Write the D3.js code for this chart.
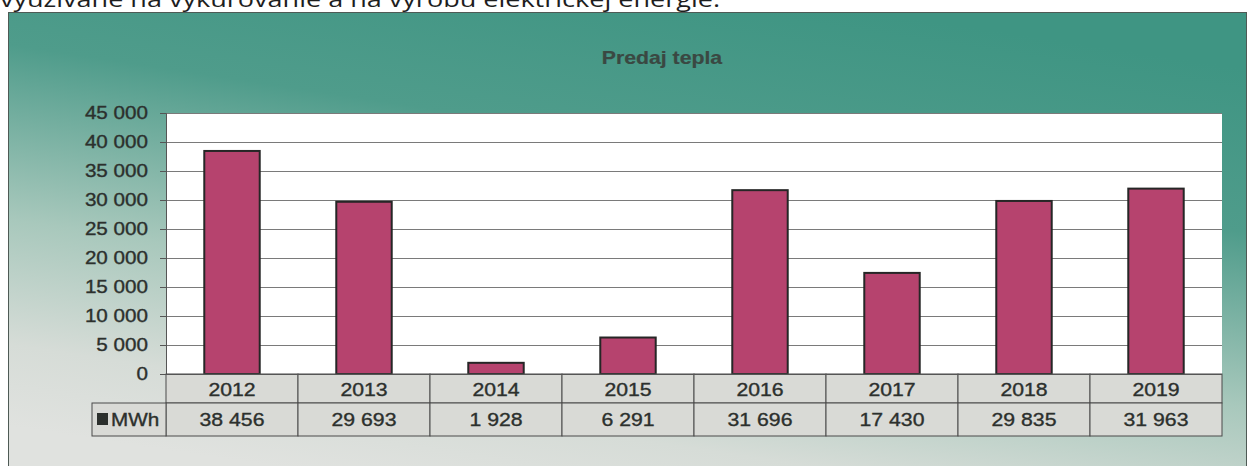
<!DOCTYPE html>
<html>
<head>
<meta charset="utf-8">
<script src="https://cdn.jsdelivr.net/npm/d3@7"></script>
<style>
  html, body { margin: 0; padding: 0; background: #ffffff; overflow: hidden; }
  svg { display: block; }
</style>
</head>
<body>
<svg id="chart" width="1248" height="466"></svg>
<script>
// ---- data ----
const categories = ["2012", "2013", "2014", "2015", "2016", "2017", "2018", "2019"];
const values = [38456, 29693, 1928, 6291, 31696, 17430, 29835, 31963];
const valueLabels = ["38 456", "29 693", "1 928", "6 291", "31 696", "17 430", "29 835", "31 963"];
const yTicks = [0, 5000, 10000, 15000, 20000, 25000, 30000, 35000, 40000, 45000];
const seriesName = "MWh";
const chartTitle = "Predaj tepla";
const pageText = "využívané na vykurovanie a na výrobu elektrickej energie.";

// ---- layout ----
const W = 1248, H = 466;
const plot = { left: 166, right: 1222, top: 113, bottom: 374 };
const row1 = { top: 374, bottom: 403 };
const row2 = { top: 403, bottom: 436 };
const legendLeft = 92;
const stretch = 1.18;
const textColor = "#2c302d";

const svg = d3.select("#chart");
const defs = svg.append("defs");

const grad = defs.append("linearGradient")
  .attr("id", "bg").attr("x1", "0.7").attr("y1", "0").attr("x2", "0.3").attr("y2", "1");
grad.append("stop").attr("offset", "0").attr("stop-color", "#3f9583");
grad.append("stop").attr("offset", "0.3").attr("stop-color", "#4f9c8b");
grad.append("stop").attr("offset", "0.62").attr("stop-color", "#a8c8bc");
grad.append("stop").attr("offset", "0.85").attr("stop-color", "#d6dcd7");
grad.append("stop").attr("offset", "1").attr("stop-color", "#e0e2df");

// page text above the chart (partly cut off, as in the reference)
svg.append("text")
  .attr("x", 0).attr("y", 7)
  .attr("font-family", "'Open Sans', 'Noto Sans', sans-serif")
  .attr("font-size", 22)
  .attr("fill", "#1e1e1e")
  .attr("textLength", 720)
  .attr("lengthAdjust", "spacingAndGlyphs")
  .text(pageText);

// chart frame
svg.append("rect")
  .attr("x", 8.5).attr("y", 12.5).attr("width", 1238).attr("height", 470)
  .attr("fill", "url(#bg)")
  .attr("stroke", "#4e5a55").attr("stroke-width", 1);

function stretchedText(g, x, y, txt, opts) {
  const t = g.append("g").attr("transform", `translate(${x},${y}) scale(${stretch},1)`)
    .append("text")
    .attr("x", 0).attr("y", 0)
    .attr("font-family", "'Liberation Sans', Arial, sans-serif")
    .attr("font-size", opts.size || 17)
    .attr("font-weight", opts.weight || "normal")
    .attr("text-anchor", opts.anchor || "middle")
    .attr("fill", opts.fill || textColor)
    .attr("stroke", opts.fill || textColor)
    .attr("stroke-width", opts.weight === "bold" ? 0.2 : 0.35)
    .text(txt);
  return t;
}

// title
stretchedText(svg, 662, 64, chartTitle, { size: 18, weight: "bold", fill: "#3a4842" });

// scales
const x = d3.scaleBand().domain(categories).range([plot.left, plot.right]).paddingInner(0.58).paddingOuter(0.29);
const xCell = d3.scaleBand().domain(categories).range([plot.left, plot.right]);
const y = d3.scaleLinear().domain([0, 45000]).range([plot.bottom, plot.top]);

// plot background
svg.append("rect")
  .attr("x", plot.left).attr("y", plot.top)
  .attr("width", plot.right - plot.left).attr("height", plot.bottom - plot.top)
  .attr("fill", "#ffffff");

// gridlines
svg.append("g").selectAll("line").data(yTicks.filter(d => d > 0)).join("line")
  .attr("x1", plot.left).attr("x2", plot.right)
  .attr("y1", d => Math.round(y(d)) + 0.5).attr("y2", d => Math.round(y(d)) + 0.5)
  .attr("stroke", "#7a7a7a").attr("stroke-width", 1);

// y axis
const yAxis = svg.append("g")
  .attr("transform", `translate(${plot.left},0)`)
  .call(d3.axisLeft(y).tickValues(yTicks).tickSize(6).tickFormat(""));
yAxis.select(".domain").attr("stroke", "#555");
yAxis.selectAll(".tick line").attr("stroke", "#555");

const fmt = d => d3.format(",")(d).replace(/,/g, " ");
yTicks.forEach(v => {
  stretchedText(svg, 148, y(v) + 6, fmt(v), { anchor: "end", size: 17.5 });
});

// bars
svg.append("g").selectAll("rect").data(categories).join("rect")
  .attr("x", d => x(d))
  .attr("y", (d, i) => y(values[i]))
  .attr("width", x.bandwidth())
  .attr("height", (d, i) => y(0) - y(values[i]))
  .attr("fill", "#b6436e")
  .attr("stroke", "#262626").attr("stroke-width", 2);

// data table
const table = svg.append("g");
table.selectAll("rect.cell1").data(categories).join("rect")
  .attr("class", "cell1")
  .attr("x", d => xCell(d)).attr("y", row1.top)
  .attr("width", xCell.bandwidth()).attr("height", row1.bottom - row1.top)
  .attr("fill", "#d9dad6").attr("stroke", "#4a4a4a").attr("stroke-width", 1);
table.selectAll("rect.cell2").data(categories).join("rect")
  .attr("class", "cell2")
  .attr("x", d => xCell(d)).attr("y", row2.top)
  .attr("width", xCell.bandwidth()).attr("height", row2.bottom - row2.top)
  .attr("fill", "#d9dad6").attr("stroke", "#4a4a4a").attr("stroke-width", 1);
table.append("rect")
  .attr("x", legendLeft).attr("y", row2.top)
  .attr("width", plot.left - legendLeft).attr("height", row2.bottom - row2.top)
  .attr("fill", "#d9dad6").attr("stroke", "#4a4a4a").attr("stroke-width", 1);

// axis baseline over the table top
svg.append("line")
  .attr("x1", plot.left - 6).attr("x2", plot.right)
  .attr("y1", plot.bottom + 0.5).attr("y2", plot.bottom + 0.5)
  .attr("stroke", "#555").attr("stroke-width", 1);

categories.forEach((c, i) => {
  const cx = xCell(c) + xCell.bandwidth() / 2;
  stretchedText(table, cx, 396, c, { size: 18 });
  stretchedText(table, cx, 426, valueLabels[i], { size: 18 });
});

// legend key
table.append("rect")
  .attr("x", 97).attr("y", 413).attr("width", 11).attr("height", 12)
  .attr("fill", "#2c302d");
stretchedText(table, 111, 426, seriesName, { anchor: "start", size: 17.5 });
</script>
</body>
</html>
